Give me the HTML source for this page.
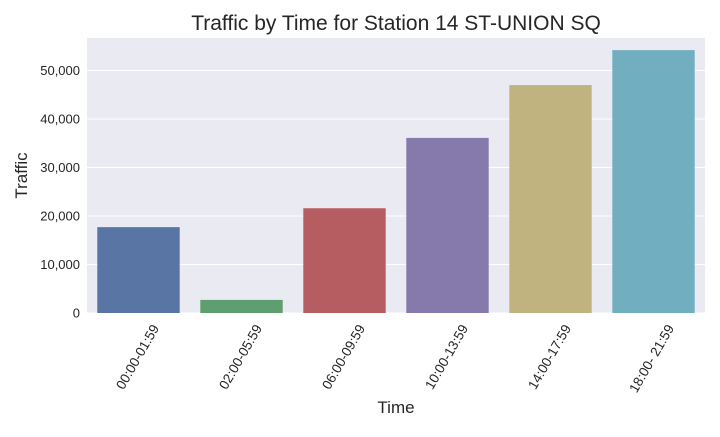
<!DOCTYPE html>
<html><head><meta charset="utf-8"><style>
body{margin:0;background:#fff;font-family:"Liberation Sans",Arial,sans-serif;}
</style></head><body>
<svg id="chart" width="720" height="432" xmlns="http://www.w3.org/2000/svg" font-family="Liberation Sans, Arial, sans-serif"></svg>
<script>
const categories = ["00:00-01:59","02:00-05:59","06:00-09:59","10:00-13:59","14:00-17:59","18:00- 21:59"];
const trafficValues = [17700, 2700, 21600, 36100, 47000, 54200];
const yTicks = [0,10000,20000,30000,40000,50000];
const colors = ["#5975a4","#5f9e6e","#b55d60","#857aab","#c1b37f","#71aec0"];

const svg = document.getElementById('chart');
const NS = "http://www.w3.org/2000/svg";
const L=87, R=705, T=38, B=313, yMax=56700;
const y = v => B - v/yMax*(B-T);
const step = (R-L)/categories.length;
const xc = i => L + step*(i+0.5);
function mk(tag, attrs, parent){const e=document.createElementNS(NS,tag);for(const k in attrs)e.setAttribute(k,attrs[k]);(parent||svg).appendChild(e);return e;}

const bg = mk('rect',{x:L,y:T,width:R-L,height:B-T,fill:'#eaeaf2'});



yTicks.forEach(t=>{
  const g = mk('line',{x1:L,x2:R,y1:y(t),y2:y(t),stroke:'#fff','stroke-width':1});
  
  
  const tx = mk('text',{x:L-7,y:y(t)+4.5,'text-anchor':'end','font-size':13,fill:'#262626'});
  tx.textContent = t.toLocaleString('en-US');
  
  
});

trafficValues.forEach((v,i)=>{
  const w = step*0.8;
  const b = mk('rect',{x:xc(i)-w/2,y:y(v),width:w,height:B-y(v),fill:colors[i]});
  
  
  const tx = mk('text',{transform:`translate(${xc(i)+21},${B+15}) rotate(-60)`,'text-anchor':'end','font-size':13.5,fill:'#262626'});
  tx.textContent = categories[i];
  
  
});

const title = mk('text',{x:(L+R)/2,y:30,'text-anchor':'middle','font-size':21,fill:'#262626'});
title.textContent='Traffic by Time for Station 14 ST-UNION SQ';


const xl = mk('text',{x:(L+R)/2,y:413,'text-anchor':'middle','font-size':17,fill:'#262626'});
xl.textContent='Time';


const yl = mk('text',{transform:`translate(27,${(T+B)/2}) rotate(-90)`,'text-anchor':'middle','font-size':17,fill:'#262626'});
yl.textContent='Traffic';


</script>
</body></html>
